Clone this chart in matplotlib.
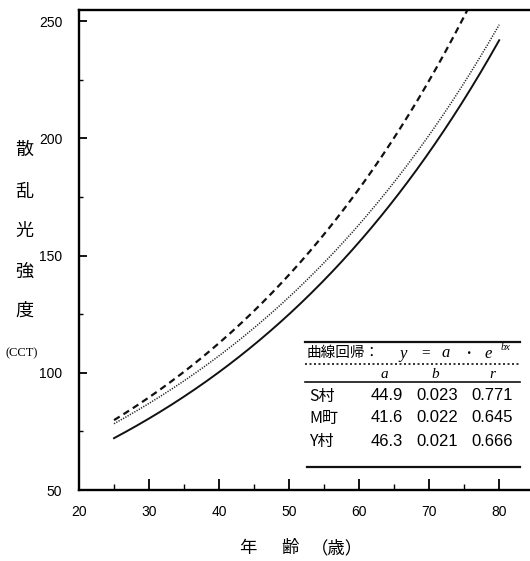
import numpy as np
import matplotlib
matplotlib.use("Agg")
import matplotlib.pyplot as plt
from matplotlib.ticker import MultipleLocator

groups = ["S村", "M町", "Y村"]
a_vals = [44.9, 41.6, 46.3]
b_vals = [0.023, 0.022, 0.021]
r_vals = [0.771, 0.645, 0.666]
line_styles = ["--", "-", ":"]
x_start, x_end = 25, 80
x_ticks = [20, 30, 40, 50, 60, 70, 80]
y_ticks = [50, 100, 150, 200, 250]

W, H = 530, 561
fig = plt.figure(figsize=(W / 100, H / 100), dpi=100)
def fx(px): return px / W
def fy(py): return 1 - py / H

ax = fig.add_axes([fx(79), fy(490), fx(530) - fx(79), fy(10) - fy(490)])
ax.set_xlim(20, 84.4)
ax.set_ylim(50, 254.7)

x = np.linspace(x_start, x_end, 300)
for a, b, ls in zip(a_vals, b_vals, line_styles):
    y = a * np.exp(b * x)
    if ls == "--":
        ax.plot(x, y, color="#111111", lw=1.6, dashes=(3, 2))
    elif ls == ":":
        ax.plot(x, y, color="#222222", lw=1.1, dashes=(0.8, 0.9))
    else:
        ax.plot(x, y, color="#111111", lw=1.4)

ax.spines["right"].set_visible(False)
for s in ["left", "bottom", "top"]:
    ax.spines[s].set_linewidth(1.7)

ax.set_xticks(x_ticks)
ax.set_yticks(y_ticks)
ax.xaxis.set_minor_locator(MultipleLocator(5))
ax.yaxis.set_minor_locator(MultipleLocator(25))
ax.tick_params(axis="x", which="major", direction="in", length=8, width=1.3, pad=11, labelsize=10)
ax.tick_params(axis="x", which="minor", direction="in", length=4, width=1.0)
ax.tick_params(axis="y", which="major", direction="in", length=6, width=1.3, pad=12, labelsize=10)
ax.tick_params(axis="y", which="minor", direction="in", length=3, width=1.0)
for lab in ax.get_xticklabels() + ax.get_yticklabels():
    lab.set_family(["Liberation Sans", "DejaVu Sans"])

jp = ["Noto Sans CJK JP", "DejaVu Sans"]

# y-axis label (stacked vertical characters)
for ch, py in zip("散乱光強度", [150, 192, 231, 272, 311]):
    fig.text(fx(24), fy(py), ch, family=jp, fontsize=13, ha="center", va="center")
fig.text(fx(22), fy(353), "(CCT)", family="Liberation Serif", fontsize=9, ha="center", va="center")

# x-axis label
fig.text(fx(248), fy(548), "年", family=jp, fontsize=12.5, ha="center", va="center")
fig.text(fx(290), fy(548), "齢", family=jp, fontsize=12.5, ha="center", va="center")
fig.text(fx(337), fy(548), "（歳）", family=jp, fontsize=12.5, ha="center", va="center")

# ---- regression table ----
def hline(py, x0=305, x1=520, **kw):
    fig.add_artist(plt.Line2D([fx(x0), fx(x1)], [fy(py), fy(py)], transform=fig.transFigure, color="#111111", **kw))

hline(342, lw=1.6)
hline(364, lw=1.2, ls=(0, (1.2, 1.5)))
hline(382, lw=1.2)
hline(467, x0=307, lw=1.6)

fig.text(fx(307), fy(353), "曲線回帰：", family=jp, fontsize=10.5, ha="left", va="center")
serif = "Liberation Serif"
fig.text(fx(403), fy(354), "y", family=serif, style="italic", fontsize=12, ha="center", va="center")
fig.text(fx(426), fy(353), "=", family=serif, fontsize=11, ha="center", va="center")
fig.text(fx(446), fy(353), "a", family=serif, style="italic", fontsize=12, ha="center", va="center")
fig.text(fx(468), fy(353), "・", family=jp, fontsize=9, ha="center", va="center")
fig.text(fx(488), fy(354), "e", family=serif, style="italic", fontsize=12, ha="center", va="center")
fig.text(fx(506), fy(348), "bx", family=serif, style="italic", fontsize=7.5, ha="center", va="center")

for lbl, px in zip(["a", "b", "r"], [384, 435, 492]):
    fig.text(fx(px), fy(374), lbl, family=serif, style="italic", fontsize=11, ha="center", va="center")

row_y = [396, 418, 441]
num = ["Liberation Sans", "DejaVu Sans"]
for g, a, b, r, py in zip(groups, a_vals, b_vals, r_vals, row_y):
    fig.text(fx(309), fy(py), g, family=jp, fontsize=11.5, ha="left", va="center")
    fig.text(fx(387), fy(py), f"{a:.1f}", family=num, fontsize=12, ha="center", va="center")
    fig.text(fx(437), fy(py), f"{b:.3f}", family=num, fontsize=12, ha="center", va="center")
    fig.text(fx(492), fy(py), f"{r:.3f}", family=num, fontsize=12, ha="center", va="center")

fig.savefig("out.png", dpi=100)
